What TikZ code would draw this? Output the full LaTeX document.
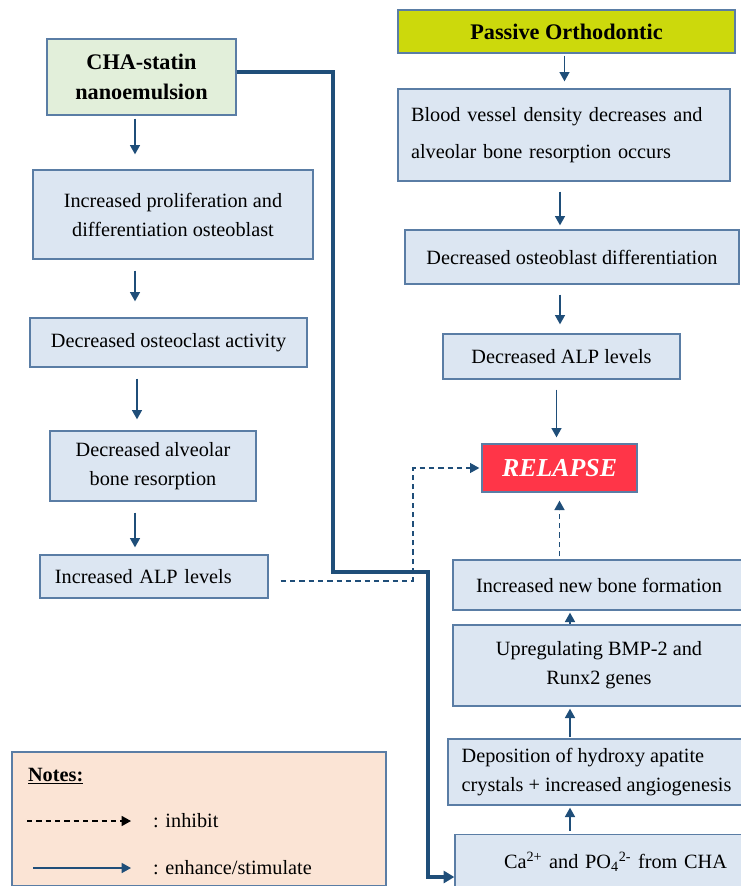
\documentclass[tikz,border=0pt]{standalone}
\usepackage{fontspec}
\setmainfont{Liberation Serif}
\usetikzlibrary{arrows.meta}

\definecolor{stagefill}{HTML}{DCE6F2}
\definecolor{stageedge}{HTML}{5A7DA5}
\definecolor{flowblue}{HTML}{1F4E79}
\definecolor{chagreen}{HTML}{E2EFDA}
\definecolor{passiveyellow}{HTML}{CCD90C}
\definecolor{relapsered}{HTML}{FF3548}
\definecolor{notesfill}{HTML}{FBE4D5}

\begin{document}
\begin{tikzpicture}[x=0.75pt,y=-0.75pt,
                    line width=1pt,
                    font=\fontsize{15.2}{21.75}\selectfont]
    \tikzstyle{stage}=[rectangle,draw=stageedge,fill=stagefill,line width=1pt,inner sep=0pt,align=center]
    \tikzstyle{leftstage}=[stage,align=left]
    \tikzstyle{title}=[stage,font=\fontsize{16.7}{23}\selectfont\bfseries]
    \tikzstyle{flow}=[draw=flowblue,line width=1.2pt,-{Triangle[length=7pt,width=7.5pt]}]
    \tikzstyle{block}=[flow,line width=1pt,dash pattern=on 4pt off 3pt]
    \tikzstyle{strong}=[flow,line width=3pt,-{Triangle[length=8pt,width=9pt]}]

    \useasboundingbox (0,0) rectangle (741,886);

    % left column
    \node[title,fill=chagreen,minimum width=141.75pt,minimum height=57pt] (cha) at (141.5,77) {CHA-statin\\nanoemulsion};
    \node[stage,minimum width=210pt,minimum height=66.75pt] (prolif) at (173,214.5) {Increased proliferation and\\differentiation osteoblast};
    \node[stage,minimum width=207.75pt,minimum height=36.75pt] (osteoclast) at (168.5,342.5) {Decreased osteoclast activity};
    \node[stage,minimum width=154.5pt,minimum height=52.5pt] (alveolar) at (153,466) {Decreased alveolar\\bone resorption};
    \node[leftstage,text width=148.5pt,minimum width=171pt,minimum height=32.25pt] (incalp) at (154,576.5) {Increased ALP levels};

    % right column
    \node[title,fill=passiveyellow,minimum width=252.75pt,minimum height=32.25pt] (passive) at (566.5,31.5) {Passive Orthodontic};
    \node[leftstage,text width=229.5pt,minimum width=249pt,minimum height=69pt,
          font=\fontsize{15.2}{27.75}\selectfont] (blood) at (564,135) {Blood vessel density decreases and\\alveolar bone resorption occurs};
    \node[stage,minimum width=250.5pt,minimum height=40.5pt] (diff) at (572,257) {Decreased osteoblast differentiation};
    \node[stage,minimum width=177.75pt,minimum height=33.75pt] (alp) at (561.5,356.5) {Decreased ALP levels};
    \node[stage,fill=relapsered,text=white,minimum width=116.25pt,minimum height=36pt,
          font=\fontsize{19.4}{23}\selectfont\bfseries\itshape] (relapse) at (559.5,468) {RELAPSE};
    \node[stage,minimum width=219pt,minimum height=37.5pt] (newbone) at (599,585) {Increased new bone formation};
    \node[stage,minimum width=219pt,minimum height=60.75pt] (bmp) at (599,665.5) {Upregulating BMP-2 and\\Runx2 genes};
    \node[leftstage,minimum width=222.75pt,minimum height=49.5pt] (depo) at (596.5,772) {Deposition of hydroxy apatite\\crystals + increased angiogenesis};
    \node[stage,align=right,text width=190.5pt,minimum width=217.5pt,minimum height=41.25pt] (ca) at (600,862)
        {\raisebox{3pt}{Ca\textsuperscript{2+} and PO\textsubscript{4}\textsuperscript{2-} from CHA}};

    % notes
    \node[rectangle,draw=stageedge,fill=notesfill,minimum width=280.5pt,minimum height=100.5pt] (notes) at (199,819) {};
    \node[anchor=west,font=\fontsize{15.2}{18}\selectfont\bfseries] (notestitle) at (23,776) {\underline{Notes:}};
    \coordinate (inhibitstart) at (27,821);
    \coordinate (inhibitend) at (131,821);
    \coordinate (enhancestart) at (33,868);
    \coordinate (enhanceend) at (131,868);
    \node[anchor=west] (inhibitlabel) at (148,821) {: inhibit};
    \node[anchor=west] (enhancelabel) at (148,868) {: enhance/stimulate};
    \draw[block,draw=black] (inhibitstart) -- (inhibitend);
    \draw[flow] (enhancestart) -- (enhanceend);

    % column lines for the arrows
    \coordinate (leftcol) at (135,0);
    \coordinate (midcol) at (137,0);
    \coordinate (uppercol) at (560,0);
    \coordinate (lowercol) at (570,0);

    \draw[flow,shorten <=2.25pt,shorten >=11.25pt] (cha.south -| leftcol) -- (prolif.north -| leftcol);
    \draw[flow,shorten <=8.25pt,shorten >=12pt] (prolif.south -| leftcol) -- (osteoclast.north -| leftcol);
    \draw[flow,shorten <=8.25pt,shorten >=8.25pt] (osteoclast.south -| midcol) -- (alveolar.north -| midcol);
    \draw[flow,shorten <=8.25pt,shorten >=5.25pt] (alveolar.south -| leftcol) -- (incalp.north -| leftcol);

    \draw[flow,shorten <=1.5pt,shorten >=5.25pt] ([xshift=-1.5pt]passive.south) -- ([xshift=-1.5pt]passive.south |- blood.north);
    \draw[flow,shorten <=7.5pt,shorten >=3pt] (blood.south -| uppercol) -- (diff.north -| uppercol);
    \draw[flow,shorten <=7.5pt,shorten >=6.75pt] (diff.south -| uppercol) -- (alp.north -| uppercol);
    \draw[flow,shorten <=7.5pt,shorten >=4.5pt] ([xshift=-3.75pt]alp.south) -- ([xshift=-3.75pt]alp.south |- relapse.north);
    \draw[block,shorten <=2.25pt,shorten >=6pt] (newbone.north -| relapse.south) -- (relapse.south);
    \draw[flow,shorten >=1.5pt] (bmp.north -| lowercol) -- (newbone.south -| lowercol);
    \draw[flow,shorten <=0.75pt,shorten >=1.5pt] (depo.north -| lowercol) -- (bmp.south -| lowercol);
    \draw[flow,shorten <=2.25pt,shorten >=1.5pt] (ca.north -| lowercol) -- (depo.south -| lowercol);

    % cross links
    \draw[strong] ([yshift=3.75pt]cha.east) -| (333,572) -| (428,877) -- ([yshift=-11.25pt]ca.west);
    \draw[block] ([xshift=9pt,yshift=-3.4pt]incalp.east) -| (413,468) -- ([xshift=-1.5pt]relapse.west);
\end{tikzpicture}
\end{document}
